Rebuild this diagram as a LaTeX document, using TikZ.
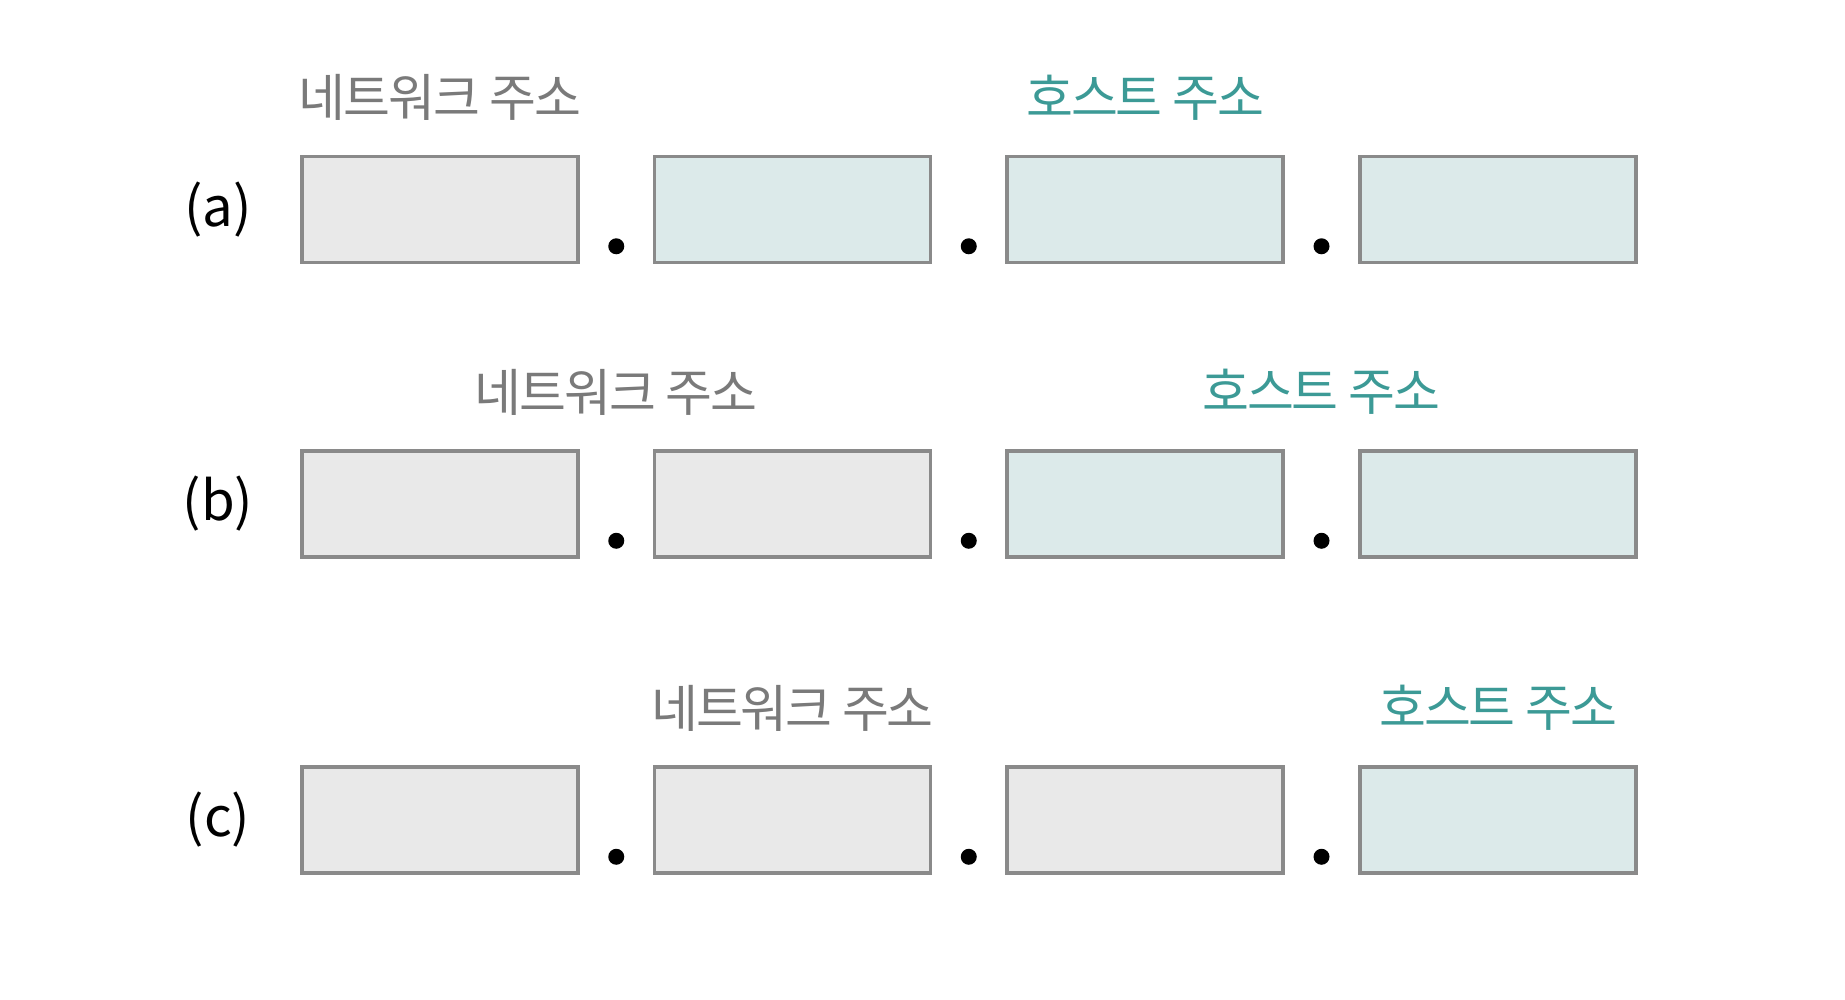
\documentclass[tikz,border=0pt]{standalone}
\usepackage{fontspec}
\setmainfont{Noto Sans CJK KR}
\newfontfamily\lblfont[LetterSpace=-4]{Noto Sans CJK KR}
\usetikzlibrary{positioning}
\definecolor{netfill}{HTML}{E9E9E9}
\definecolor{hostfill}{HTML}{DCEAEA}
\definecolor{edgegray}{HTML}{8A8A8A}
\definecolor{nettext}{HTML}{7A7A7A}
\definecolor{hosttext}{HTML}{3C9A96}
\tikzset{
    octet/.style={
        draw=edgegray, line width=1pt,
        minimum width=2.76cm, minimum height=1.06cm, inner sep=0pt
    },
    netbox/.style={octet, fill=netfill},
    hostbox/.style={octet, fill=hostfill},
    sepdot/.style={circle, fill=black, inner sep=0pt, minimum size=0.16cm},
    netlbl/.style={text=nettext, inner sep=0pt, font=\lblfont\fontsize{14.5}{17}\selectfont},
    hostlbl/.style={text=hosttext, inner sep=0pt, font=\lblfont\fontsize{14.5}{17}\selectfont},
    rowtag/.style={inner sep=0pt, font=\fontsize{15.5}{18}\selectfont}
}
% #1 row, #2 y, #3..#6 style of each octet
\newcommand{\addrRow}[6] {
	\node[rowtag] (#1) at (218,#2) {(#1)};
	\node[#3] (#1-1) at (440,#2) {};
	\node[#4] (#1-2) at (792.5,#2) {};
	\node[#5] (#1-3) at (1145,#2) {};
	\node[#6] (#1-4) at (1498,#2) {};
	\path (#1-1.south east) -- (#1-2.south west) node[sepdot, pos=0.5, yshift=0.18cm] (#1-d1) {};
	\path (#1-2.south east) -- (#1-3.south west) node[sepdot, pos=0.5, yshift=0.18cm] (#1-d2) {};
	\path (#1-3.south east) -- (#1-4.south west) node[sepdot, pos=0.5, yshift=0.18cm] (#1-d3) {};
}
% #1 row, #2 y, #3 x of network label, #4 x of host label
\newcommand{\addrLabels}[4] {
	\node[netlbl] (#1-net) at (#3,#2) {네트워크 주소};
	\node[hostlbl] (#1-host) at (#4,#2) {호스트 주소};
}
\begin{document}
\begin{tikzpicture}[x=0.01cm, y=-0.01cm]
	\useasboundingbox[fill=white] (0,0) rectangle (1845,1000);

	% (a)
	\addrLabels{a}{97.5}{440}{1145}
	\addrRow{a}{209.5}{netbox}{hostbox}{hostbox}{hostbox}

	% (b)
	\addrLabels{b}{392}{616}{1321}
	\addrRow{b}{504}{netbox}{netbox}{hostbox}{hostbox}

	% (c)
	\addrLabels{c}{708}{792.5}{1498}
	\addrRow{c}{820}{netbox}{netbox}{netbox}{hostbox}

\end{tikzpicture}
\end{document}
